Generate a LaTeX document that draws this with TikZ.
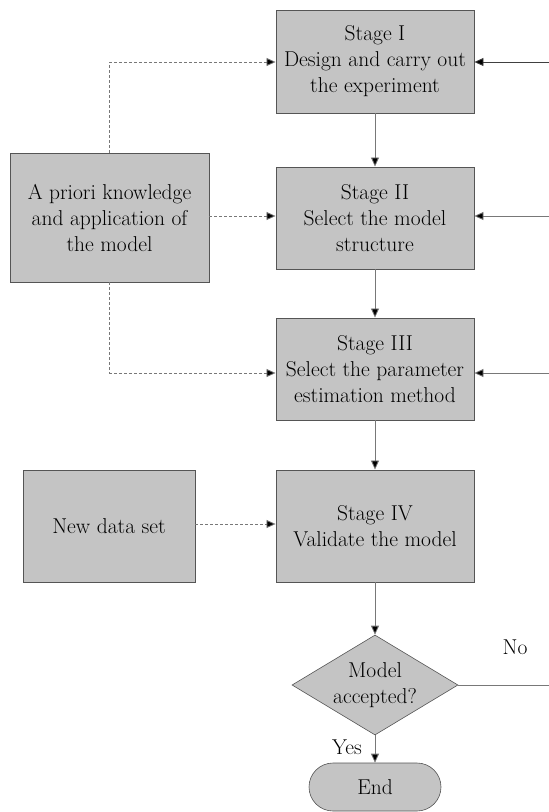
\documentclass[tikz,border=0pt]{standalone}
\usetikzlibrary{shapes.geometric,shapes.misc,arrows.meta}
\definecolor{boxfill}{RGB}{196,196,196}
\definecolor{boxline}{RGB}{85,85,85}
\definecolor{conn}{RGB}{120,120,120}
\begin{document}
\begin{tikzpicture}[x=1pt,y=-1pt,
  every node/.style={font=\fontsize{21.5}{26}\selectfont, align=center, inner sep=0pt},
  stagebox/.style={draw=boxline, fill=boxfill, line width=0.9pt, rectangle, minimum width=198pt},
  decision/.style={draw=boxline, fill=boxfill, line width=0.6pt, diamond, minimum width=166pt, minimum height=100pt, aspect=1.66},
  terminal/.style={draw=boxline, fill=boxfill, line width=0.6pt, rounded rectangle, minimum width=132pt, minimum height=48pt},
  flow/.style={draw=conn, line width=0.8pt, -{Triangle[length=9pt,width=8pt,fill=black]}},
  dflow/.style={draw=conn, line width=0.8pt, dashed, dash pattern=on 3pt off 2pt, -{Triangle[length=9pt,width=8pt,fill=black]}},
  rflow/.style={draw=black!75, line width=0.8pt, -{Triangle[length=9pt,width=8pt,fill=black]}}
]
\useasboundingbox (0,0) rectangle (549,812);

\node[stagebox, minimum height=103pt] (s1) at (375,61.5) {Stage I\\Design and carry out\\the experiment};
\node[stagebox, minimum height=102pt] (s2) at (375,218) {Stage II\\Select the model\\structure};
\node[stagebox, minimum height=102pt] (s3) at (375,369) {Stage III\\Select the parameter\\estimation method};
\node[stagebox, minimum height=112pt] (s4) at (375,526) {Stage IV\\Validate the model};

\node[stagebox, minimum width=199pt, minimum height=129pt] (ap) at (109.5,217.5) {A priori knowledge\\and application of\\the model};
\node[stagebox, minimum width=172pt, minimum height=112pt] (nd) at (109,526) {New data set};

\node[decision] (dec) at (375,685) {Model\\accepted?};
\node[terminal] (end) at (375,787) {End};

\node (no) at (515,647) {No};
\node (yes) at (347,747) {Yes};

\coordinate (r1) at (549,62);
\coordinate (r2) at (549,216);
\coordinate (r3) at (549,373);
\coordinate (r4) at (549,685);

\draw[flow] (s1) -- (s2);
\draw[flow] (s2) -- (s3);
\draw[flow] (s3) -- (s4);
\draw[flow] (s4) -- (dec);
\draw[flow] (dec) -- (end);

\draw[rflow] (r1) -- (s1.east |- r1);
\draw[flow] (r2) -- (s2.east |- r2);
\draw[flow] (r3) -- (s3.east |- r3);
\draw[draw=conn, line width=0.8pt] (dec.east) -- (r4);

\draw[dflow] (ap.north) -- (ap.north |- r1) -- (s1.west |- r1);
\draw[dflow] (ap.east |- r2) -- (s2.west |- r2);
\draw[dflow] (ap.south) -- (ap.south |- r3) -- (s3.west |- r3);
\draw[dflow] (nd.east |- 0,524) -- (s4.west |- 0,524);
\end{tikzpicture}
\end{document}
